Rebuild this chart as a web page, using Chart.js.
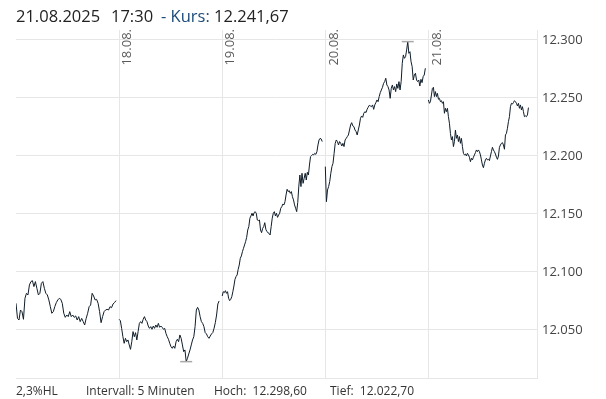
<!DOCTYPE html>
<html>
<head>
<meta charset="utf-8">
<script src="https://cdn.jsdelivr.net/npm/chart.js@4.4.1/dist/chart.umd.min.js"></script>
<style>
body { margin: 0; background: #fff; font-family: 'Open Sans', sans-serif; }
#wrap { position: relative; width: 606px; height: 399px; overflow: hidden; }
canvas { position: absolute; left: 0; top: 0; }
.t { position: absolute; white-space: pre; line-height: 1; }
.head { top: 8px; font-size: 16.5px; color: #222; }
.foot { top: 385px; font-size: 12px; color: #333; }
</style>
</head>
<body>
<div id="wrap">
    <canvas id="chart" width="606" height="399"></canvas>
    <div class="t head" style="left:16px">21.08.2025</div>
    <div class="t head" style="left:111px">17:30</div>
    <div class="t head" style="left:161px"><span style="color:#1d4b78">- Kurs:</span> 12.241,67</div>
    <div class="t foot" style="left:16px">2,3%HL</div>
    <div class="t foot" style="left:86px">Intervall: 5 Minuten</div>
    <div class="t foot" style="left:214px">Hoch:  12.298,60</div>
    <div class="t foot" style="left:330px">Tief:  12.022,70</div>
</div>
<script>
const dayLabels = ["15.08.", "18.08.", "19.08.", "20.08.", "21.08."];
const yTicks = [12050, 12100, 12150, 12200, 12250, 12300];

// 5-minute closes per trading day
const day1 = [12073.0, 12060.0, 12058.6, 12067.2, 12065.8, 12059.2, 12077.3, 12081.6, 12080.2, 12088.8,
    12091.7, 12092.5, 12087.4, 12091.7, 12085.9, 12080.2, 12081.6, 12090.2, 12091.7, 12085.9,
    12081.6, 12080.2, 12075.9, 12070.1, 12064.4, 12065.8, 12070.1, 12073.6, 12075.9, 12077.3,
    12076.4, 12073.0, 12064.4, 12060.9, 12062.9, 12061.5, 12065.8, 12061.5, 12062.9, 12060.9,
    12062.1, 12058.6, 12061.5, 12057.2, 12060.0, 12057.2, 12054.3, 12060.0, 12064.4, 12070.1,
    12071.5, 12081.6, 12079.3, 12075.9, 12076.4, 12073.0, 12065.8, 12056.3, 12061.5, 12065.8,
    12067.2, 12067.8, 12067.2, 12070.1, 12069.2, 12072.4, 12073.6, 12075.3];

const day2 = [12059.2, 12058.0, 12051.4, 12044.2, 12038.5, 12042.8, 12039.9, 12041.4, 12037.1, 12033.3,
    12039.9, 12048.6, 12044.2, 12047.7, 12041.4, 12048.6, 12055.7, 12057.2, 12055.7, 12059.2,
    12061.5, 12058.6, 12057.2, 12053.4, 12051.4, 12052.9, 12050.6, 12053.4, 12051.4, 12054.3,
    12052.3, 12055.7, 12052.3, 12053.4, 12052.3, 12050.6, 12051.4, 12047.1, 12044.2, 12042.0,
    12038.5, 12035.6, 12034.2, 12036.2, 12034.2, 12039.9, 12042.0, 12039.9, 12045.7, 12042.8,
    12037.1, 12031.3, 12032.8, 12022.7, 12025.6, 12029.3, 12032.8, 12037.1, 12041.4, 12044.2,
    12052.9, 12067.2, 12069.5, 12067.2, 12061.5, 12057.2, 12055.7, 12052.9, 12047.7, 12046.6,
    12044.2, 12042.8, 12044.8, 12046.6, 12047.7, 12051.4, 12056.3, 12062.9, 12072.4, 12075.0];

const day3 = [12079.3, 12083.0, 12082.2, 12083.9, 12081.6, 12083.0, 12077.3, 12075.3, 12076.4, 12078.7,
    12083.0, 12087.9, 12093.7, 12096.0, 12097.4, 12102.3, 12106.0, 12111.8, 12113.8, 12117.5,
    12120.4, 12123.3, 12126.2, 12129.9, 12136.2, 12139.1, 12146.3, 12148.3, 12150.6, 12148.3,
    12151.2, 12152.0, 12150.6, 12144.8, 12144.3, 12144.8, 12136.2, 12133.9, 12137.6, 12139.1,
    12142.5, 12136.8, 12134.8, 12133.9, 12133.3, 12131.9, 12139.1, 12146.3, 12150.6, 12152.0,
    12148.3, 12150.6, 12147.1, 12149.1, 12150.6, 12154.9, 12156.3, 12158.6, 12157.8, 12160.6,
    12166.4, 12171.3, 12169.3, 12170.1, 12167.8, 12169.3, 12164.9, 12162.1, 12157.8, 12154.9,
    12152.0, 12160.0, 12174.0, 12183.6, 12173.6, 12185.1, 12176.4, 12180.7, 12185.1, 12179.3,
    12185.9, 12183.6, 12192.2, 12199.4, 12200.3, 12201.4, 12200.9, 12202.3, 12201.4, 12203.7,
    12209.5, 12213.8, 12215.2, 12214.7, 12212.4];

const day4 = [12190.8, 12160.6, 12170.7, 12173.6, 12177.9, 12185.1, 12190.8, 12193.7, 12202.3, 12210.9,
    12213.8, 12212.4, 12209.5, 12212.4, 12210.9, 12208.6, 12210.9, 12208.1, 12213.8, 12215.2,
    12216.7, 12218.1, 12222.4, 12226.7, 12228.7, 12225.9, 12225.3, 12222.4, 12221.0, 12218.1,
    12222.4, 12226.7, 12232.5, 12234.5, 12233.3, 12236.8, 12238.2, 12237.4, 12240.2, 12242.0,
    12243.7, 12243.1, 12242.5, 12244.0, 12240.2, 12244.0, 12246.0, 12248.3, 12246.8, 12251.2,
    12254.6, 12256.9, 12259.2, 12262.6, 12264.1, 12267.0, 12261.2, 12259.8, 12256.9, 12249.7,
    12258.3, 12261.2, 12256.9, 12259.8, 12255.5, 12262.1, 12258.3, 12264.1, 12256.9, 12264.1,
    12279.9, 12287.1, 12284.2, 12285.6, 12291.4, 12298.6, 12288.5, 12289.9, 12281.3, 12277.0,
    12265.5, 12269.8, 12271.3, 12265.5, 12264.1, 12265.5, 12260.3, 12266.1, 12263.2, 12268.4,
    12269.8, 12275.6];

const day5 = [12248.3, 12245.4, 12246.8, 12252.6, 12258.3, 12259.2, 12251.2, 12255.5, 12251.2, 12254.0,
    12248.9, 12249.7, 12246.8, 12247.7, 12245.4, 12246.8, 12236.8, 12241.1, 12238.2, 12241.1,
    12233.9, 12228.2, 12219.5, 12213.8, 12216.7, 12208.1, 12212.4, 12222.4, 12215.2, 12218.1,
    12212.4, 12216.7, 12210.9, 12215.2, 12208.1, 12202.3, 12200.9, 12201.7, 12200.0, 12202.3,
    12200.9, 12198.9, 12195.1, 12198.0, 12196.6, 12198.9, 12200.9, 12202.9, 12205.2, 12203.7,
    12205.2, 12203.7, 12200.9, 12196.6, 12192.2, 12189.9, 12193.7, 12196.6, 12198.0, 12196.6,
    12197.1, 12196.0, 12200.0, 12203.7, 12207.5, 12205.2, 12203.7, 12201.7, 12198.9, 12197.1,
    12200.0, 12207.5, 12209.5, 12210.9, 12211.5, 12209.5, 12205.8, 12218.1, 12219.5, 12223.9,
    12229.6, 12233.9, 12242.5, 12245.4, 12244.8, 12246.0, 12247.7, 12246.8, 12245.4, 12243.1,
    12245.4, 12241.1, 12244.0, 12239.7, 12242.5, 12238.2, 12233.9, 12234.5, 12233.9, 12235.4,
    12241.67];

const days = [day1, day2, day3, day4, day5];
const sessionLength = 0.97; // trading session as share of a day slot

function fmt(v) {
    return String(v).replace(/\B(?=(\d{3})+(?!\d))/g, ".");
}

const datasets = days.map((vals, d) => ({
    data: vals.map((v, j) => ({ x: d + j * sessionLength / (vals.length - 1), y: v })),
    borderColor: "#0f1d29",
    borderWidth: 1,
    pointRadius: 0,
    tension: 0
}));

// date labels inside the plot and high / low marks
const extrasPlugin = {
    id: "extras",
    afterDatasetsDraw(chart) {
        const ctx = chart.ctx;
        const xs = chart.scales.x, ys = chart.scales.y;
        const top = chart.chartArea.top;
        ctx.save();
        ctx.font = "13px 'Open Sans'";
        ctx.fillStyle = "#5a5a5a";
        ctx.textAlign = "right";
        ctx.textBaseline = "top";
        for (let d = 1; d < dayLabels.length; d++) {
            const px = xs.getPixelForValue(d);
            ctx.save();
            ctx.translate(px + 2, top - 1);
            ctx.rotate(-Math.PI / 2);
            ctx.fillText(dayLabels[d], 0, 0);
            ctx.restore();
        }
        let hi = null, lo = null;
        chart.data.datasets.forEach(ds => ds.data.forEach(p => {
            if (!hi || p.y > hi.y) hi = p;
            if (!lo || p.y < lo.y) lo = p;
        }));
        ctx.strokeStyle = "#a8a8a8";
        ctx.lineWidth = 1.5;
        [hi, lo].forEach(p => {
            const px = xs.getPixelForValue(p.x), py = ys.getPixelForValue(p.y);
            ctx.beginPath();
            ctx.moveTo(px - 6, py);
            ctx.lineTo(px + 6, py);
            ctx.stroke();
        });
        ctx.restore();
    }
};

const ctx = document.getElementById("chart").getContext("2d");
const chart = new Chart(ctx, {
    type: "line",
    data: { datasets: datasets },
    options: {
        responsive: false,
        animation: false,
        layout: { padding: { left: 16, top: 30, right: 0, bottom: 21 } },
        plugins: { legend: { display: false }, tooltip: { enabled: false } },
        scales: {
            x: {
                type: "linear",
                min: 0,
                max: 5.053,
                afterBuildTicks: s => { s.ticks = [1, 2, 3, 4].map(v => ({ value: v })); },
                afterFit: s => { s.height = 0; },
                ticks: { display: false },
                grid: { color: "#e6e6e6", drawTicks: false },
                border: { color: "#e6e6e6" }
            },
            y: {
                position: "right",
                min: 12008.6,
                max: 12308.6,
                afterBuildTicks: s => { s.ticks = yTicks.map(v => ({ value: v })); },
                afterFit: s => { s.width = 69; },
                ticks: {
                    padding: 5,
                    color: "#444",
                    font: { family: "'Open Sans'", size: 13 },
                    callback: v => fmt(v)
                },
                grid: { color: "#e6e6e6", drawTicks: false },
                border: { color: "#e6e6e6" }
            }
        }
    },
    plugins: [extrasPlugin]
});
</script>
</body>
</html>
